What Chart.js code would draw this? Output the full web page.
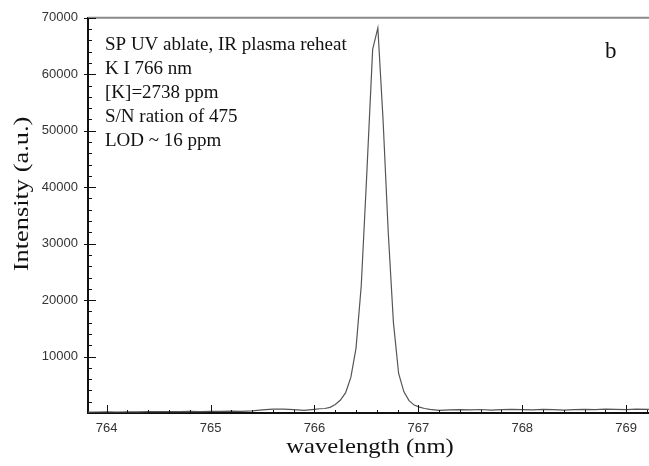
<!DOCTYPE html>
<html>
<head>
<meta charset="utf-8">
<script src="https://cdn.jsdelivr.net/npm/chart.js@4.4.1/dist/chart.umd.min.js"></script>
<style>
  body { margin: 0; background: #fff; }
  canvas { display: block; }
</style>
</head>
<body>
<canvas id="spectrum" width="649" height="466"></canvas>
<script>
// K I 766 nm line
var wavelength = [
  763.82, 763.9, 764.0, 764.1, 764.2, 764.3, 764.4, 764.5, 764.6, 764.7,
  764.8, 764.9, 765.0, 765.1, 765.2, 765.3, 765.4, 765.5, 765.6, 765.7,
  765.8, 765.9, 766.0, 766.05, 766.1, 766.15, 766.2, 766.25, 766.3, 766.35,
  766.4, 766.45, 766.5, 766.56, 766.61, 766.66, 766.71, 766.76, 766.81, 766.86,
  766.91, 766.96, 767.01, 767.06, 767.11, 767.2, 767.3, 767.4, 767.5, 767.6,
  767.7, 767.8, 767.9, 768.0, 768.1, 768.2, 768.3, 768.4, 768.5, 768.6,
  768.7, 768.8, 768.9, 769.0, 769.1, 769.22
];
var intensity = [
  150, 180, 200, 180, 220, 200, 250, 230, 260, 240,
  280, 260, 300, 280, 320, 300, 380, 550, 700, 680,
  600, 450, 650, 750, 800, 1000, 1500, 2300, 3600, 6300,
  11500, 22500, 41000, 64400, 68200, 52000, 32000, 16000, 7000, 3800,
  2200, 1400, 1050, 800, 650, 450, 550, 600, 550, 620,
  500, 600, 650, 600, 550, 650, 600, 500, 600, 650,
  600, 700, 650, 600, 700, 650
];
var xTicks = [764, 765, 766, 767, 768, 769];
var yTicks = [10000, 20000, 30000, 40000, 50000, 60000, 70000];
var notes = [
  "SP UV ablate, IR plasma reheat",
  "K I 766 nm",
  "[K]=2738 ppm",
  "S/N ration of 475",
  "LOD ~ 16 ppm"
];
var panelLabel = "b";
var xTitle = "wavelength (nm)";
var yTitle = "Intensity (a.u.)";

var points = wavelength.map(function (w, i) {
  return { x: w, y: intensity[i] };
});

// inward tick marks, top frame line, axis titles and the text block
var decor = {
  id: "decor",
  afterDraw: function (chart) {
    var c = chart.ctx;
    var a = chart.chartArea;
    var xs = chart.scales.x;
    var ys = chart.scales.y;
    c.save();
    c.strokeStyle = "#888";
    c.lineWidth = 2;
    c.beginPath();
    c.moveTo(a.left, a.top);
    c.lineTo(a.right, a.top);
    c.stroke();

    c.strokeStyle = "#111";
    c.lineWidth = 1;
    c.beginPath();
    for (var v = 763.8; v <= 769.3; v += 0.2) {
      var px = Math.round(xs.getPixelForValue(v)) + 0.5;
      if (px <= a.left + 1 || px > a.right) continue;
      var major = xTicks.some(function (t) { return Math.abs(t - v) < 0.01; });
      c.moveTo(px, a.bottom);
      c.lineTo(px, a.bottom - (major ? 8 : 3));
    }
    for (var y = 2000; y <= 70000; y += 2000) {
      var py = Math.round(ys.getPixelForValue(y)) + 0.5;
      var isMajor = y % 10000 === 0;
      c.moveTo(a.left - (isMajor ? 4 : 0), py);
      c.lineTo(a.left + (isMajor ? 8 : 4), py);
    }
    c.stroke();

    c.fillStyle = "#111";
    c.textBaseline = "middle";
    c.font = "19px 'Liberation Serif', 'DejaVu Serif', serif";
    notes.forEach(function (t, i) {
      c.fillText(t, 105, 45 + i * 24);
    });
    c.font = "23px 'Liberation Serif', serif";
    c.fillText(panelLabel, 605, 52);

    // axis titles, a bit stretched like the scanned figure
    c.textAlign = "center";
    c.font = "22px 'Liberation Serif', serif";
    c.save();
    c.translate(370, 447);
    c.scale(1.12, 1);
    c.fillText(xTitle, 0, 0);
    c.restore();
    c.save();
    c.translate(22, 194);
    c.rotate(-Math.PI / 2);
    c.scale(1.2, 1);
    c.fillText(yTitle, 0, 0);
    c.restore();
    c.restore();
  }
};

var ctx = document.getElementById("spectrum");
var chart = new Chart(ctx, {
  type: "scatter",
  data: {
    datasets: [{
      data: points,
      showLine: true,
      borderColor: "#555",
      borderWidth: 1.2,
      pointRadius: 0,
      tension: 0
    }]
  },
  options: {
    responsive: false,
    animation: false,
    layout: { padding: { top: 15, left: 0, right: 0, bottom: 0 } },
    plugins: { legend: { display: false }, tooltip: { enabled: false } },
    scales: {
      x: {
        type: "linear",
        min: 763.82,
        max: 769.22,
        afterBuildTicks: function (s) {
          s.ticks = xTicks.map(function (v) { return { value: v }; });
        },
        afterFit: function (s) { s.height = 53; },
        grid: { display: false, drawTicks: false },
        border: { display: true, color: "#111", width: 2 },
        ticks: {
          color: "#333",
          padding: 8,
          font: { family: "'Liberation Sans', Arial, sans-serif", size: 13 },
          callback: function (v) { return v; }
        }
      },
      y: {
        min: 0,
        max: 70000,
        afterBuildTicks: function (s) {
          s.ticks = yTicks.map(function (v) { return { value: v }; });
        },
        afterFit: function (s) { s.width = 88; },
        grid: { display: false, drawTicks: false },
        border: { display: true, color: "#111", width: 2 },
        ticks: {
          color: "#333",
          padding: 10,
          font: { family: "'Liberation Sans', Arial, sans-serif", size: 13 },
          callback: function (v) { return v; }
        }
      }
    }
  },
  plugins: [decor]
});
</script>
</body>
</html>
